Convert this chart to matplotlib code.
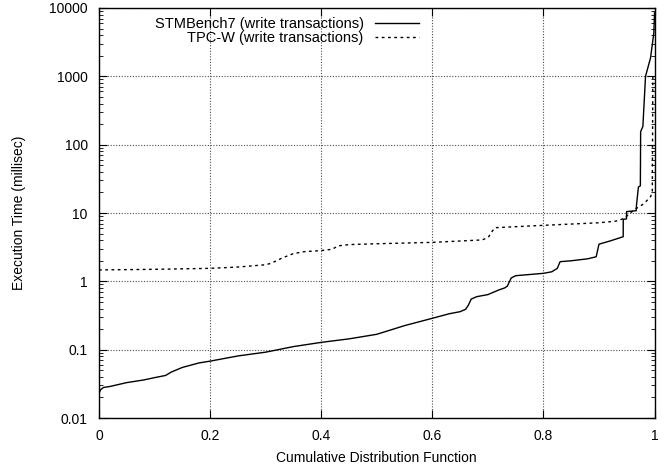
import matplotlib
matplotlib.use('Agg')
import matplotlib.pyplot as plt
from matplotlib.ticker import FixedLocator, LogLocator, NullFormatter

plt.rcParams['font.family'] = ['Liberation Sans', 'DejaVu Sans']

stm_x = [0, 0.003, 0.008, 0.02, 0.05, 0.08, 0.1, 0.12, 0.13, 0.15, 0.18, 0.2,
         0.25, 0.3, 0.35, 0.4, 0.45, 0.5, 0.55, 0.6, 0.63, 0.65, 0.66, 0.665,
         0.67, 0.68, 0.7, 0.72, 0.73, 0.735, 0.742, 0.75, 0.8, 0.815, 0.825,
         0.83, 0.85, 0.88, 0.895, 0.9, 0.92, 0.935, 0.9436, 0.9437, 0.9495,
         0.9497, 0.967, 0.9675, 0.971, 0.9745, 0.975, 0.979, 0.9838, 0.9928,
         0.9987, 1.0]
stm_y = [0.023, 0.026, 0.028, 0.029, 0.033, 0.036, 0.039, 0.042, 0.047, 0.055,
         0.064, 0.068, 0.081, 0.092, 0.111, 0.128, 0.144, 0.168, 0.225, 0.288,
         0.335, 0.36, 0.39, 0.45, 0.55, 0.597, 0.64, 0.75, 0.80, 0.85, 1.12,
         1.21, 1.31, 1.38, 1.55, 1.94, 2.0, 2.14, 2.29, 3.5, 3.9, 4.27, 4.5,
         8.1, 8.2, 10.5, 10.8, 13, 24, 25, 155, 184, 1000, 1860, 4270, 8500]

tpc_x = [0, 0.1, 0.2, 0.25, 0.3, 0.31, 0.33, 0.35, 0.37, 0.4, 0.42, 0.43, 0.45,
         0.5, 0.6, 0.69, 0.701, 0.706, 0.713, 0.8, 0.9, 0.93, 0.945, 0.963,
         0.981, 0.993, 0.996, 0.997]
tpc_y = [1.47, 1.5, 1.55, 1.62, 1.75, 1.84, 2.2, 2.55, 2.72, 2.82, 2.95, 3.3,
         3.45, 3.55, 3.72, 4.04, 4.42, 5.2, 6.1, 6.6, 7.2, 7.6, 8.3, 11.1, 13.7,
         17.4, 20.5, 1100]

x_ticks = [0, 0.2, 0.4, 0.6, 0.8, 1]
x_labels = ['0', '0.2', '0.4', '0.6', '0.8', '1']
y_ticks = [0.01, 0.1, 1, 10, 100, 1000, 10000]
y_labels = ['0.01', '0.1', '1', '10', '100', '1000', '10000']

fig = plt.figure(figsize=(6.67, 4.65), dpi=100)
ax = fig.add_axes([0.1484, 0.101, 0.8329, 0.8818])

ax.plot(stm_x, stm_y, color='black', lw=1.0, label='STMBench7 (write transactions)')
ax.plot(tpc_x, tpc_y, color='black', lw=1.0, linestyle=(0, (2, 2.5)),
        label='TPC-W (write transactions)')

ax.set_yscale('log')
ax.set_xlim(0, 1)
ax.set_ylim(0.01, 10000)
ax.xaxis.set_major_locator(FixedLocator(x_ticks))
ax.set_xticklabels(x_labels)
ax.yaxis.set_major_locator(FixedLocator(y_ticks))
ax.set_yticklabels(y_labels)
ax.yaxis.set_minor_locator(LogLocator(base=10, subs=(2, 3, 4, 5, 6, 7, 8, 9), numticks=20))
ax.yaxis.set_minor_formatter(NullFormatter())

ax.tick_params(which='both', direction='in', top=True, right=True, labelsize=10)
ax.tick_params(which='major', length=6, width=0.8, pad=8)
ax.tick_params(which='minor', length=3, width=0.6)
ax.grid(True, which='major', linestyle=(0, (1, 1.5)), color='0.3', lw=0.8)
for s in ax.spines.values():
    s.set_linewidth(1.0)

ax.set_xlabel('Cumulative Distribution Function', fontsize=10, labelpad=6)
ax.set_ylabel('Execution Time (millisec)', fontsize=10, labelpad=17)

ax.legend(loc='upper right', bbox_to_anchor=(0.592, 1.0), frameon=False,
          markerfirst=False, fontsize=10.5, handlelength=3.0, labelspacing=0.0,
          borderaxespad=0.2, handletextpad=0.8)

fig.savefig('out.png', dpi=100)
plt.close('all')
